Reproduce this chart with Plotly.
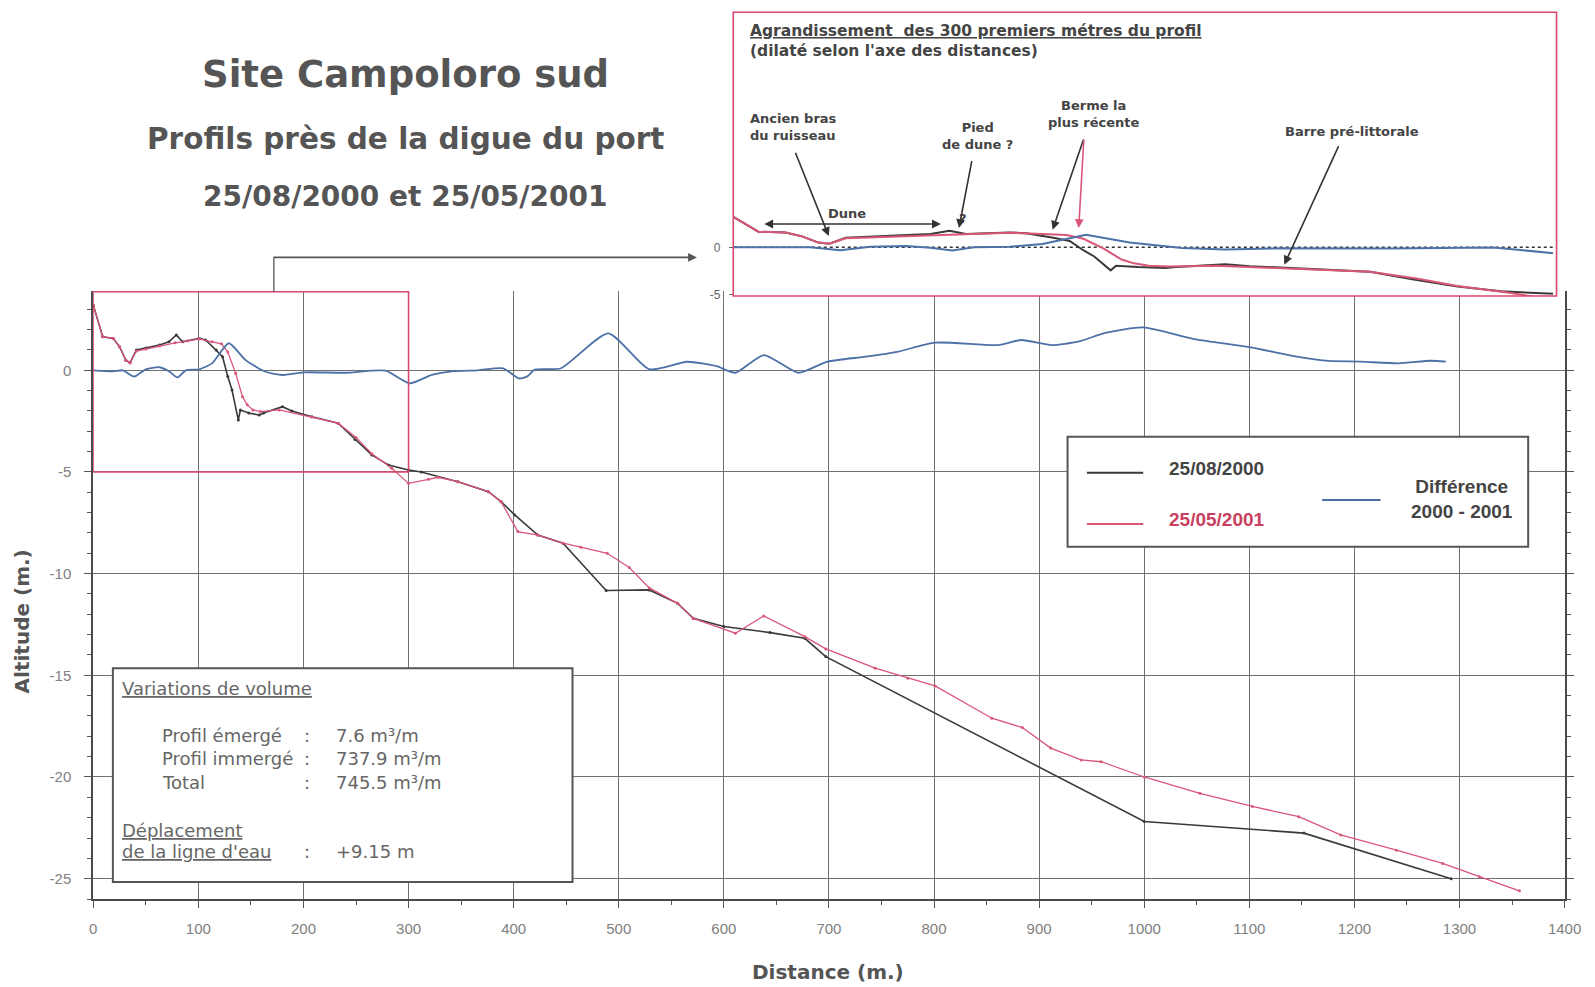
import plotly.graph_objects as go

# ---- beach profiles, Campoloro sud (distance / altitude in metres) ----
dist_2000 = [0, 9, 19, 25, 31, 35, 41, 50, 63, 72, 79, 85, 101, 107, 117, 123, 128, 132,
             138, 140, 148, 158, 162, 180, 189, 208, 233, 249, 265, 281, 300, 312, 347,
             376, 388, 401, 423, 447, 488, 529, 556, 571, 600, 644, 677, 697, 1000, 1152, 1292]
alt_2000 = [3.2, 1.65, 1.57, 1.16, 0.5, 0.37, 1.0, 1.1, 1.24, 1.4, 1.74, 1.4, 1.57, 1.49, 1.0,
            0.67, -0.31, -0.97, -2.44, -1.95, -2.1, -2.2, -2.1, -1.79, -2.0, -2.28, -2.6, -3.4,
            -4.16, -4.66, -4.9, -5.0, -5.48, -5.97, -6.46, -7.11, -8.1, -8.5, -10.83, -10.8,
            -11.46, -12.2, -12.6, -12.9, -13.18, -14.08, -22.19, -22.76, -25.0]

dist_2001 = [0, 9, 19, 25, 31, 35, 41, 50, 63, 78, 90, 101, 113, 122, 128, 135.5, 142, 146.5,
             152, 159, 177, 208, 233, 250, 265, 284, 300, 319, 328, 347, 376, 388, 404, 423,
             447, 464, 489, 510, 529, 556, 571, 611, 638, 677, 697, 744, 775, 801, 855, 884,
             911, 940, 959, 1000, 1053, 1103, 1147, 1187, 1240, 1284, 1319, 1357]
alt_2001 = [3.2, 1.65, 1.57, 1.16, 0.5, 0.37, 0.95, 1.05, 1.2, 1.35, 1.45, 1.55, 1.4, 1.3, 0.9,
            -0.15, -1.3, -1.7, -1.95, -2.03, -1.95, -2.3, -2.6, -3.3, -4.1, -4.82, -5.56,
            -5.36, -5.26, -5.48, -5.97, -6.46, -7.93, -8.1, -8.5, -8.7, -9.0, -9.7, -10.7,
            -11.46, -12.2, -12.93, -12.08, -13.1, -13.7, -14.65, -15.14, -15.52, -17.11,
            -17.57, -18.58, -19.16, -19.25, -20.0, -20.8, -21.45, -21.95, -22.85, -23.6,
            -24.25, -24.9, -25.6]

dist_diff = [0, 19, 28, 39, 50, 63, 72, 80, 88, 101, 113, 129, 145, 164, 180, 200, 240, 278,
             301, 322, 341, 366, 390, 405, 413, 420, 445, 490, 529, 565, 593, 611, 638, 671,
             698, 735, 765, 801, 861, 883, 912, 937, 964, 999, 1049, 1100, 1145, 1176, 1206,
             1242, 1272, 1287]
diff_2000_2001 = [0, -0.05, 0, -0.31, 0.05, 0.15, -0.05, -0.35, 0, 0.05, 0.34, 1.33, 0.5, -0.07,
                  -0.23, -0.1, -0.12, -0.02, -0.64, -0.23, -0.05, 0, 0.1, -0.4, -0.3, 0.03, 0.1,
                  1.82, 0.05, 0.42, 0.2, -0.12, 0.75, -0.12, 0.42, 0.67, 0.91, 1.36, 1.24, 1.49,
                  1.24, 1.41, 1.85, 2.11, 1.52, 1.14, 0.67, 0.46, 0.43, 0.34, 0.47, 0.43]

x_ticks = list(range(0, 1401, 100))
y_ticks = [0, -5, -10, -15, -20, -25]
y_ticktext = ["0", "-5", "-10", "-15", "-20", "-25"]
inset_ticks = [0, -5]
inset_ticktext = ["0", "-5"]

# ---- page geometry helpers (pixel -> paper) ----
W, H = 1595, 987
ML, MR, MT, MB = 20, 20, 10, 88
PW, PH = W - ML - MR, H - MT - MB


def pxx(x):
    return (x - ML) / PW


def pxy(y):
    return (H - MB - y) / PH


C_2000 = "#3a3a3a"
C_2001 = "#d95678"
C_DIFF = "#4c71a6"
C_BOX = "#d9476c"
C_TEXT = "#555555"
C_GRID = "#707070"
BOLD_WIDE = "DejaVu Sans"
ARIAL = "Liberation Sans"

fig = go.Figure()

# main profiles
fig.add_trace(go.Scatter(x=dist_2000, y=alt_2000, mode="lines+markers",
                         line=dict(color=C_2000, width=1.6),
                         marker=dict(size=3, color=C_2000), xaxis="x", yaxis="y"))
fig.add_trace(go.Scatter(x=dist_2001, y=alt_2001, mode="lines+markers",
                         line=dict(color=C_2001, width=1.3),
                         marker=dict(size=3, color=C_2001), xaxis="x", yaxis="y"))
fig.add_trace(go.Scatter(x=dist_diff, y=diff_2000_2001, mode="lines",
                         line=dict(color=C_DIFF, width=1.8, shape="spline", smoothing=0.6),
                         xaxis="x", yaxis="y"))

# enlarged first 300 m
fig.add_trace(go.Scatter(x=dist_2000, y=alt_2000, mode="lines",
                         line=dict(color=C_2000, width=2), xaxis="x2", yaxis="y2"))
fig.add_trace(go.Scatter(x=dist_2001, y=alt_2001, mode="lines",
                         line=dict(color=C_2001, width=2), xaxis="x2", yaxis="y2"))
fig.add_trace(go.Scatter(x=dist_diff, y=diff_2000_2001, mode="lines",
                         line=dict(color=C_DIFF, width=2), xaxis="x2", yaxis="y2"))

inset_bottom, inset_top = 296, 12.2
units_per_px = 5 / (294.5 - 247.3)
y2_range = [-(inset_bottom - 247.3) * units_per_px, (247.3 - inset_top) * units_per_px]

tick_font = dict(family="Liberation Sans Narrow, Liberation Sans", size=15, color="#808080")

fig.update_layout(
    width=W, height=H,
    margin=dict(l=ML, r=MR, t=MT, b=MB),
    paper_bgcolor="white", plot_bgcolor="white",
    showlegend=False,
    xaxis=dict(domain=[pxx(93.6), pxx(1571.6)], range=[0, 1400], tickvals=x_ticks,
               ticks="outside", ticklen=7, tickcolor="#555", ticklabelstandoff=8,
               minor=dict(dtick=50, ticks="outside", ticklen=4, tickcolor="#555", showgrid=False),
               showline=True, linecolor="#4a4a4a", linewidth=2,
               showgrid=True, gridcolor=C_GRID, gridwidth=1, zeroline=False,
               tickfont=tick_font, anchor="y"),
    yaxis=dict(domain=[0, pxy(291)], range=[-26, 3.9], tickvals=y_ticks, ticktext=y_ticktext,
               ticks="outside", ticklen=7, tickcolor="#555", ticklabelstandoff=10,
               minor=dict(dtick=1, ticks="outside", ticklen=4, tickcolor="#555", showgrid=False),
               showline=True, linecolor="#4a4a4a", linewidth=2, mirror="ticks",
               showgrid=True, gridcolor=C_GRID, gridwidth=1, zeroline=False,
               tickfont=tick_font, anchor="x"),
    xaxis2=dict(domain=[pxx(737), pxx(1560)], range=[0, 300], showticklabels=False,
                ticks="", showgrid=False, zeroline=False, showline=False, anchor="y2"),
    yaxis2=dict(domain=[pxy(inset_bottom), pxy(inset_top)], range=y2_range,
                tickvals=inset_ticks, ticktext=inset_ticktext, ticks="outside", ticklen=4,
                tickcolor="#666", ticklabelstandoff=6, showgrid=False, zeroline=False,
                showline=False, tickfont=dict(family=ARIAL, size=12, color="#666"),
                anchor="x2"),
)

shapes = []
# red frame on the first 300 m of the main chart
shapes.append(dict(type="rect", xref="x", yref="y", x0=0, x1=300, y0=-5, y1=3.86,
                   line=dict(color=C_BOX, width=1.6), layer="above"))
# frame around the enlargement
shapes.append(dict(type="rect", xref="paper", yref="paper",
                   x0=pxx(736.5), x1=pxx(1563.5), y0=pxy(296), y1=pxy(12.2),
                   line=dict(color=C_BOX, width=1.6), layer="above"))
# dotted zero line in the enlargement
shapes.append(dict(type="line", xref="x2", yref="y2", x0=0, x1=300, y0=0, y1=0,
                   line=dict(color="#333", width=1.6, dash="dot"), layer="below"))
# connector stub from the red frame
shapes.append(dict(type="line", xref="paper", yref="paper",
                   x0=pxx(275), x1=pxx(275), y0=pxy(291.7), y1=pxy(257.4),
                   line=dict(color="#555", width=1.3)))
# legend box
shapes.append(dict(type="rect", xref="paper", yref="paper",
                   x0=pxx(1072.3), x1=pxx(1535), y0=pxy(546.7), y1=pxy(436.7),
                   line=dict(color="#555", width=2), fillcolor="white", layer="above"))
# legend line samples
for (x0, x1, yy, col) in [(1091.7, 1148.3, 472.7, C_2000), (1091.7, 1148.3, 524, C_2001),
                          (1328, 1386.7, 500, C_DIFF)]:
    shapes.append(dict(type="line", xref="paper", yref="paper",
                       x0=pxx(x0), x1=pxx(x1), y0=pxy(yy), y1=pxy(yy),
                       line=dict(color=col, width=2), layer="above"))
# volume box
shapes.append(dict(type="rect", xref="paper", yref="paper",
                   x0=pxx(113.3), x1=pxx(575), y0=pxy(882), y1=pxy(668.3),
                   line=dict(color="#555", width=2), fillcolor="white", layer="above"))
fig.update_layout(shapes=shapes)

annotations = []


def text(x, y, s, size, color=C_TEXT, family=BOLD_WIDE, xanchor="left", angle=0):
    annotations.append(dict(x=pxx(x), y=pxy(y), xref="paper", yref="paper", text=s,
                            showarrow=False, xanchor=xanchor, yanchor="middle",
                            textangle=angle, align="center" if xanchor == "center" else "left",
                            font=dict(family=family, size=size, color=color)))


def arrow(tail, head, color="#333", both=False):
    annotations.append(dict(x=pxx(head[0]), y=pxy(head[1]), xref="paper", yref="paper",
                            ax=tail[0] - head[0], ay=tail[1] - head[1], text="",
                            showarrow=True, arrowhead=2, arrowsize=1.1, arrowwidth=1.6,
                            arrowcolor=color, standoff=0, startstandoff=0,
                            arrowside="end+start" if both else "end", startarrowhead=2,
                            startarrowsize=1.1))


# titles
text(407, 74.3, "<b>Site Campoloro sud</b>", 37, xanchor="center")
text(407, 139.4, "<b>Profils près de la digue du port</b>", 29.5, xanchor="center")
text(407, 196.4, "<b>25/08/2000 et 25/05/2001</b>", 28, xanchor="center")

# axis titles
text(832, 972, "<b>Distance (m.)</b>", 20, xanchor="center")
text(22.4, 621, "<b>Altitude (m.)</b>", 20, xanchor="center", angle=-90)

# connector arrow to the enlargement
arrow((275, 257.4), (700, 257.4), color="#555")

# enlargement labels
text(751, 31.3, "<b><u>Agrandissement \u00a0des 300 premiers métres du profil</u></b>", 15.5,
     color="#444")
text(751, 51, "<b>(dilaté selon l'axe des distances)</b>", 15.5, color="#444")
text(751, 127, "<b>Ancien bras<br>du ruisseau</b>", 13, color="#444")
text(851, 213, "<b>Dune</b>", 13, color="#444", xanchor="center")
text(967, 219, "<b>?</b>", 13, color="#444", xanchor="center")
text(982, 136, "<b>Pied<br>de dune ?</b>", 13, color="#444", xanchor="center")
text(1099, 114, "<b>Berme la<br>plus récente</b>", 13, color="#444", xanchor="center")
text(1358, 131.3, "<b>Barre pré-littorale</b>", 13, color="#444", xanchor="center")

arrow((798.5, 151.3), (832.4, 236))
arrow((767, 224), (945, 224), both=True)
arrow((976.3, 159.7), (963.2, 228))
arrow((1088.7, 138), (1057.3, 229.7))
arrow((1088.7, 138), (1083.5, 228), color=C_2001)
arrow((1345, 144.7), (1290, 264.7))

# legend texts
text(1171.7, 468.3, "<b>25/08/2000</b>", 19, color="#444", family=ARIAL)
text(1171.7, 519.3, "<b>25/05/2001</b>", 19, color="#c8405f", family=ARIAL)
text(1469, 498.5, "<b>Différence<br>2000 - 2001</b>", 19, color="#444", family=ARIAL,
     xanchor="center")

# volume summary
vol_rows = [("Profil émergé", "7.6 m³/m", 735),
            ("Profil immergé", "737.9 m³/m", 758.3),
            ("Total", "745.5 m³/m", 782.7)]
text(120.7, 688.3, "<u>Variations de volume</u>", 18, color="#666", family=BOLD_WIDE)
for label, value, yy in vol_rows:
    text(161, yy, label, 18, color="#666")
    text(308, yy, ":", 18, color="#666", xanchor="center")
    text(335, yy, value, 18, color="#666")
text(120.7, 830, "<u>Déplacement</u>", 18, color="#666")
text(120.7, 851.7, "<u>de la ligne d'eau</u>", 18, color="#666")
text(308, 851.7, ":", 18, color="#666", xanchor="center")
text(335, 851.7, "+9.15 m", 18, color="#666")

fig.update_layout(annotations=annotations)

fig.write_html("out.html")
